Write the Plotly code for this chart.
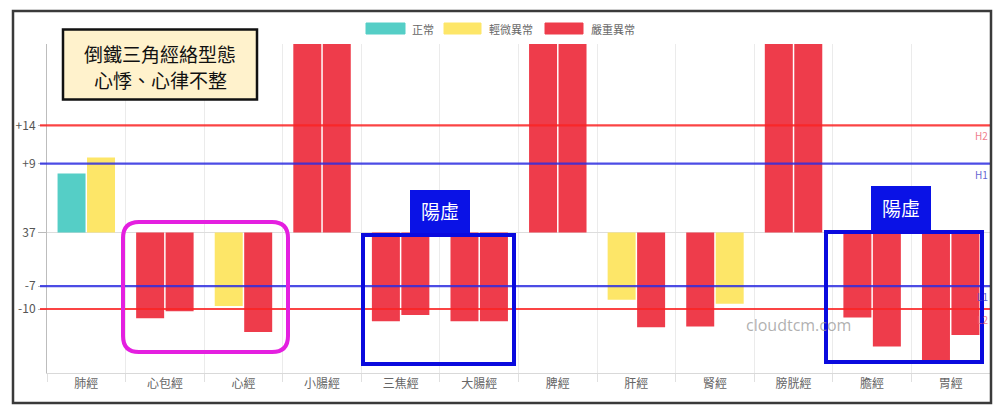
import plotly.graph_objects as go

# ---------------- data ----------------
categories = ["肺經", "心包經", "心經", "小腸經", "三焦經", "大腸經",
              "脾經", "肝經", "腎經", "膀胱經", "膽經", "胃經"]
left_values = [7.7, -11.2, -9.6, 30, -11.6, -11.6, 30, -8.8, -12.3, 30, -11.1, -16.7]
right_values = [9.8, -10.3, -13.0, 30, -10.8, -11.6, 30, -12.4, -9.3, 30, -14.9, -13.4]
left_status = ["正常", "嚴重異常", "輕微異常", "嚴重異常", "嚴重異常", "嚴重異常",
               "嚴重異常", "輕微異常", "嚴重異常", "嚴重異常", "嚴重異常", "嚴重異常"]
right_status = ["輕微異常", "嚴重異常", "嚴重異常", "嚴重異常", "嚴重異常", "嚴重異常",
                "嚴重異常", "嚴重異常", "輕微異常", "嚴重異常", "嚴重異常", "嚴重異常"]
status_names = ["正常", "輕微異常", "嚴重異常"]
status_colors = ["#55cec6", "#fde668", "#ee3c4b"]

threshold_names = ["H2", "H1", "L1", "L2"]
threshold_values = [14, 9, -7, -10]
threshold_colors = ["rgba(250,35,35,0.85)", "rgba(45,45,225,0.85)",
                    "rgba(45,45,225,0.85)", "rgba(250,35,35,0.85)"]
threshold_label_colors = ["rgba(235,90,110,0.8)", "rgba(70,70,200,0.85)",
                          "rgba(70,70,200,0.85)", "rgba(235,90,110,0.8)"]

ytick_vals = [14, 9, 0, -7, -10]
ytick_text = ["+14", "+9", "37", "-7", "-10"]

title_lines = ["倒鐵三角經絡型態", "心悸、心律不整"]
group_label = "陽虛"
watermark = "cloudtcm.com"

FONT = "Noto Sans CJK TC, Noto Sans, sans-serif"

# ---------------- layout geometry (pixels) ----------------
W, H = 1000, 415
ML, MR, MT, MB = 47, 10, 44, 42
PW, PH = W - ML - MR, H - MT - MB


def px(x):
    return (x - ML) / PW


def py(y):
    return (H - MB - y) / PH


cmap = dict(zip(status_names, status_colors))

fig = go.Figure()
fig.add_trace(go.Bar(x=categories, y=left_values,
                     marker=dict(color=[cmap[s] for s in left_status], line=dict(width=0)),
                     showlegend=False, name="左"))
fig.add_trace(go.Bar(x=categories, y=right_values,
                     marker=dict(color=[cmap[s] for s in right_status], line=dict(width=0)),
                     showlegend=False, name="右"))

shapes = []
annotations = []

# threshold lines
for name, val, col, lcol in zip(threshold_names, threshold_values,
                                threshold_colors, threshold_label_colors):
    shapes.append(dict(type="line", xref="paper", yref="y", x0=px(40), x1=1.0,
                       y0=val, y1=val, line=dict(color=col, width=2.2), layer="above"))
    annotations.append(dict(text=name, xref="paper", yref="y", x=1.0, y=val,
                            xanchor="right", yanchor="top", yshift=-1, showarrow=False,
                            font=dict(size=10, color=lcol, family=FONT)))

# frame
shapes.append(dict(type="rect", xref="paper", yref="paper",
                   x0=px(13), x1=px(991), y0=py(403), y1=py(11),
                   line=dict(color="#3a3a3a", width=2.5), layer="above"))

# title box
shapes.append(dict(type="rect", xref="paper", yref="paper",
                   x0=px(63), x1=px(257), y0=py(99.5), y1=py(29.5),
                   fillcolor="#fff2cc", line=dict(color="#111111", width=2.5), layer="above"))
for line_text, ly in zip(title_lines, [53.5, 79]):
    annotations.append(dict(text=line_text, xref="paper", yref="paper",
                            x=px(160), y=py(ly), xanchor="center", yanchor="middle",
                            showarrow=False, align="center",
                            font=dict(size=19, color="#111111", family=FONT)))


# rounded magenta rectangle
def rounded_path(x0, y0, x1, y1, r):
    pts = []
    pts.append(f"M {px(x0 + r)} {py(y0)}")
    pts.append(f"L {px(x1 - r)} {py(y0)}")
    pts.append(f"Q {px(x1)} {py(y0)} {px(x1)} {py(y0 + r)}")
    pts.append(f"L {px(x1)} {py(y1 - r)}")
    pts.append(f"Q {px(x1)} {py(y1)} {px(x1 - r)} {py(y1)}")
    pts.append(f"L {px(x0 + r)} {py(y1)}")
    pts.append(f"Q {px(x0)} {py(y1)} {px(x0)} {py(y1 - r)}")
    pts.append(f"L {px(x0)} {py(y0 + r)}")
    pts.append(f"Q {px(x0)} {py(y0)} {px(x0 + r)} {py(y0)}")
    pts.append("Z")
    return " ".join(pts)


shapes.append(dict(type="path", xref="paper", yref="paper",
                   path=rounded_path(123, 222, 288, 352, 16),
                   line=dict(color="#e41fe0", width=4), layer="above"))

# blue boxes with labels
for (bx0, by0, bx1, by1), (lx0, ly0, lx1, ly1) in [
        ((363, 235, 514, 364), (410, 190, 470, 233)),
        ((826, 232, 982, 362), (871, 186, 931, 230))]:
    shapes.append(dict(type="rect", xref="paper", yref="paper",
                       x0=px(bx0), x1=px(bx1), y0=py(by1), y1=py(by0),
                       line=dict(color="#0a0ade", width=4), layer="above"))
    shapes.append(dict(type="rect", xref="paper", yref="paper",
                       x0=px(lx0), x1=px(lx1), y0=py(ly1), y1=py(ly0),
                       fillcolor="#0a12e6", line=dict(color="#0a12e6", width=0), layer="above"))
    annotations.append(dict(text=group_label, xref="paper", yref="paper",
                            x=px((lx0 + lx1) / 2), y=py((ly0 + ly1) / 2 - 1),
                            xanchor="center", yanchor="middle", showarrow=False,
                            font=dict(size=19, color="white", family=FONT)))

# legend (drawn manually)
for (bx0, bx1, tx), name, col in zip([(366, 405, 410), (444, 481, 487), (545, 583, 589)],
                                    status_names, status_colors):
    shapes.append(dict(type="rect", xref="paper", yref="paper",
                       x0=px(bx0), x1=px(bx1), y0=py(34), y1=py(23),
                       fillcolor=col, line=dict(color=col, width=1), layer="above"))
    annotations.append(dict(text=name, xref="paper", yref="paper",
                            x=px(tx), y=py(28.5), xanchor="left", yanchor="middle",
                            showarrow=False, font=dict(size=11, color="#666666", family=FONT)))

# watermark
annotations.append(dict(text=watermark, xref="paper", yref="paper",
                        x=px(798), y=py(325), xanchor="center", yanchor="middle",
                        showarrow=False,
                        font=dict(size=16, color="rgba(150,150,150,0.75)", family="Open Sans, sans-serif")))

zero_px = 232.5
k = 7.65
y_range = [-(H - MB - zero_px) / k, (zero_px - MT) / k]

fig.update_layout(
    width=W, height=H, autosize=False,
    margin=dict(l=ML, r=MR, t=MT, b=MB, pad=0),
    paper_bgcolor="white", plot_bgcolor="white",
    barmode="group", bargap=0.25, bargroupgap=0.05,
    showlegend=False,
    font=dict(family=FONT, color="#666666", size=11),
    shapes=shapes, annotations=annotations,
    xaxis=dict(type="category", tickson="boundaries", showgrid=True, gridcolor="#ebebeb",
               gridwidth=1, ticks="outside", ticklen=8, tickcolor="#e0e0e0",
               showline=True, linecolor="#d9d9d9", linewidth=1,
               tickfont=dict(size=12, color="#666666", family=FONT), fixedrange=True),
    yaxis=dict(range=y_range, tickvals=ytick_vals, ticktext=ytick_text,
               showgrid=False, zeroline=True, zerolinecolor="#dddddd", zerolinewidth=1,
               ticks="outside", ticklen=8, tickcolor="#bbbbbb",
               showline=True, linecolor="#bdbdbd", linewidth=1,
               tickfont=dict(size=12, color="#555555", family=FONT), fixedrange=True),
)

fig.write_html("out.html", config={"displayModeBar": False},
               post_script="document.body.style.margin='0';document.body.style.overflow='hidden';")
